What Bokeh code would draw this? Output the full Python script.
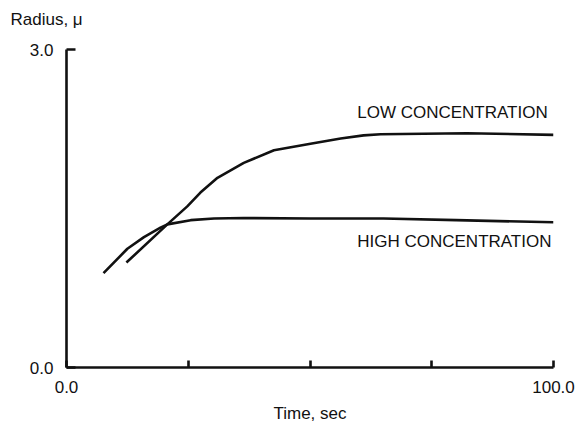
from bokeh.plotting import figure
from bokeh.models import Range1d, FixedTicker, Label
from bokeh.embed import file_html
from bokeh.resources import INLINE

# Data
high_t = [7.6, 12.5, 15.9, 19.3, 20.7, 25.5, 30.3, 36.4, 50.1, 65.1, 80.0, 100.0]
high_r = [0.89, 1.12, 1.23, 1.32, 1.35, 1.39, 1.405, 1.41, 1.405, 1.405, 1.39, 1.37]

low_t = [12.3, 20.7, 24.8, 27.5, 31.0, 36.4, 42.6, 50.1, 56.3, 61.0, 64.5, 82.2, 100.0]
low_r = [0.99, 1.35, 1.52, 1.65, 1.79, 1.93, 2.05, 2.11, 2.16, 2.19, 2.20, 2.21, 2.195]

x_ticks = [0, 25, 50, 75, 100]
x_tick_labels = {0: "0.0", 25: "", 50: "", 75: "", 100: "100.0"}
y_ticks = [0, 3]
y_tick_labels = {0: "0.0", 3: "3.0"}

series_labels = ["LOW CONCENTRATION", "HIGH CONCENTRATION"]
x_title = "Time, sec"
y_title = "Radius, μ"

FONT = "Liberation Sans"
INK = "#111111"
FS = "17px"

p = figure(width=576, height=427, output_backend="svg", toolbar_location=None,
           x_range=Range1d(0, 100), y_range=Range1d(0, 3),
           min_border_left=66, min_border_right=23, min_border_top=49, min_border_bottom=60)
p.outline_line_color = None
p.grid.visible = False
p.background_fill_color = "white"
p.border_fill_color = "white"

p.title.text = y_title + "\n"
p.title.align = "left"
p.title.offset = -56
p.title.standoff = 4
p.title.text_font = FONT
p.title.text_font_size = FS
p.title.text_font_style = "normal"
p.title.text_color = INK

p.line(low_t, low_r, line_color=INK, line_width=2.6)
p.line(high_t, high_r, line_color=INK, line_width=2.6)

for ax in (p.xaxis[0], p.yaxis[0]):
    ax.axis_line_width = 2.6
    ax.axis_line_color = INK
    ax.major_tick_line_width = 2.6
    ax.major_tick_line_color = INK
    ax.major_tick_in = 7
    ax.major_tick_out = 0
    ax.minor_tick_line_color = None
    ax.major_label_text_font = FONT
    ax.major_label_text_font_size = FS
    ax.major_label_text_color = INK

p.xaxis.ticker = FixedTicker(ticks=x_ticks)
p.xaxis.major_label_overrides = x_tick_labels
p.xaxis.major_label_standoff = 13
p.xaxis.axis_label = x_title
p.xaxis.axis_label_text_font = FONT
p.xaxis.axis_label_text_font_size = FS
p.xaxis.axis_label_text_font_style = "normal"
p.xaxis.axis_label_text_color = INK
p.xaxis.axis_label_standoff = 8

p.yaxis.ticker = FixedTicker(ticks=y_ticks)
p.yaxis.major_label_overrides = y_tick_labels
p.yaxis.major_label_standoff = 13
p.yaxis.major_tick_in = 9

p.add_layout(Label(x=59.7, y=2.405, text=series_labels[0], text_font=FONT,
                   text_font_size=FS, text_color=INK, text_baseline="middle"))
p.add_layout(Label(x=59.7, y=1.187, text=series_labels[1], text_font=FONT,
                   text_font_size=FS, text_color=INK, text_baseline="middle"))

open("out.html", "w").write(file_html(p, INLINE))
